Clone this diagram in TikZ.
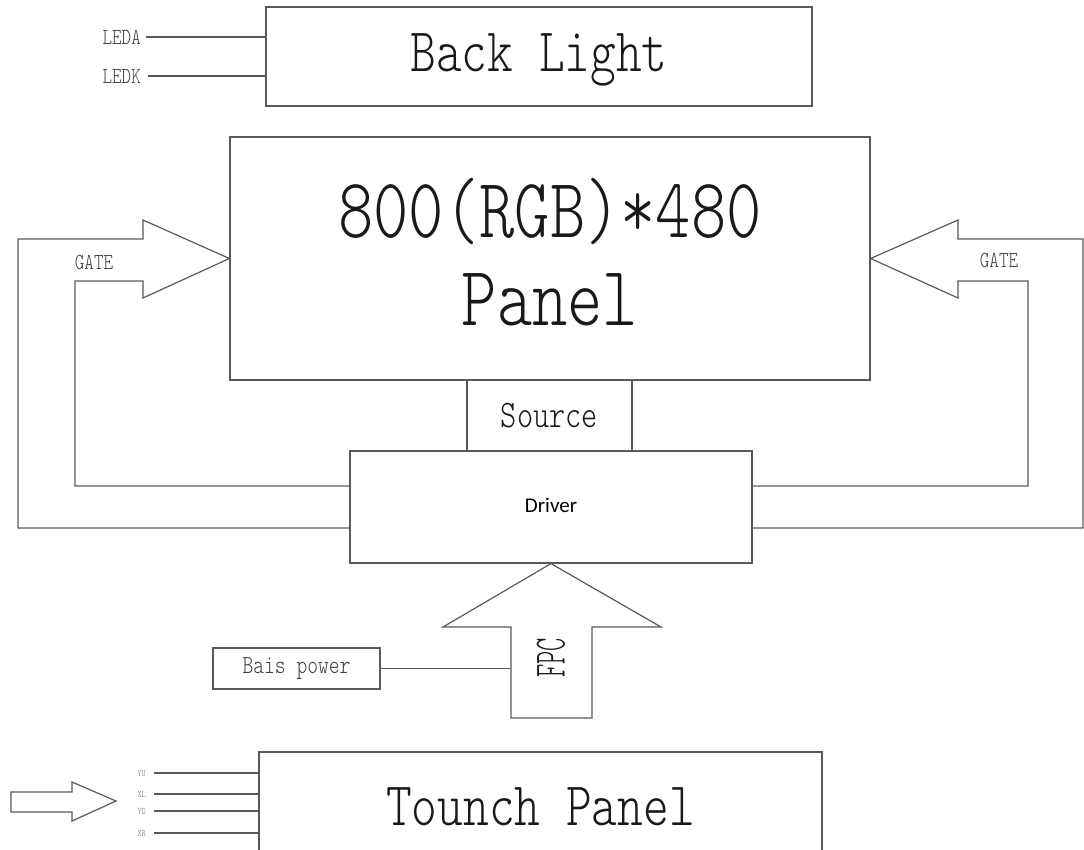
\documentclass[tikz,border=0pt]{standalone}
\usepackage{fontspec}
\newfontfamily\sunfont{lmmonolt10-regular.otf}[FakeStretch=0.79]
\newfontfamily\driverfont{Carlito}

\begin{document}
\begin{tikzpicture}[x=1pt,y=-1pt]
        \tikzstyle{every node}=[inner sep=0pt, text=black!90]
        \tikzstyle{block}=[draw=black!65, line width=1.2pt, rectangle]
        \tikzstyle{wire}=[draw=black!65, line width=1.2pt]
        \tikzstyle{pin}=[font={\sunfont\fontsize{23}{23}\selectfont}, text=black!75]
        \tikzstyle{tinypin}=[font={\sunfont\fontsize{10}{10}\selectfont}, text=black!55]
        \useasboundingbox (0,0) rectangle (1084,850);
        \node[block, minimum width=546, minimum height=99, text height=38, text depth=7, font={\sunfont\fontsize{62}{62}\selectfont}] (light) at (539,56.5) {Back Light};
        \node[block, minimum width=640, minimum height=243] (panel) at (550,258.5) {};
        \node[anchor=base, font={\sunfont\fontsize{85}{85}\selectfont}] (panela) at (550,238) {800(RGB)*480};
        \node[anchor=base, font={\sunfont\fontsize{85}{85}\selectfont}] (panelb) at (550,325) {Panel};
        \node[block, minimum width=165, minimum height=71, font={\sunfont\fontsize{39}{39}\selectfont}] (source) at (549.5,415.5) {Source};
        \node[block, minimum width=402, minimum height=112, text height=14, text depth=4, font={\driverfont\fontsize{21}{21}\selectfont}, text=black] (driver) at (551,507) {Driver};
        \node[block, minimum width=167, minimum height=41, font={\sunfont\fontsize{26}{26}\selectfont}, text=black!75] (bais) at (296.5,668.5) {Bais power};
        \node[block, minimum width=563, minimum height=110, font={\sunfont\fontsize{62}{62}\selectfont}] (touch) at (540.5,807) {Tounch Panel};
        % back light pins
        \node[pin, anchor=east] (leda) at (141,37) {LEDA};
        \node[pin, anchor=east] (ledk) at (141,76) {LEDK};
        \draw[wire] ([xshift=5]leda.east) -- (leda.east -| light.west);
        \draw[wire] ([xshift=7]ledk.east) -- (ledk.east -| light.west);
        % gate arrows
        \node[pin] (gatel) at (94,262) {GATE};
        \node[pin] (gater) at (999,260) {GATE};
        \draw[wire] (driver.west |- 0,486) -| (75,281) -- (143,281) -- (143,298) -- (panel.west) -- (143,220) -- (143,239) -| (18,528) -- (driver.west |- 0,528);
        \draw[wire] (driver.east |- 0,486) -| (1028,281) -- (958,281) -- (958,298) -- (panel.east) -- (958,220) -- (958,239) -| (1083,528) -- (driver.east |- 0,528);
        % fpc arrow
        \coordinate (fpcl) at (511,627);
        \draw[wire] (driver.south) -- (661,627) -- (592,627) -- (592,718) -- (511,718) -- (fpcl) -- (443,627) -- cycle;
        \node[rotate=90, font={\sunfont\fontsize{32}{32}\selectfont}] (fpc) at (551,658) {\scalebox{1}[1.4]{FPC}};
        \draw[wire] (bais.east) -- (bais.east -| fpcl);
        % touch pins
        \foreach \p/\y in {YU/773, XL/794, YD/811, XR/833}
            {\node[tinypin, anchor=east] (\p) at (146,\y) {\p};
             \draw[wire] ([xshift=8]\p.east) -- (\p.east -| touch.west);}
        \draw[wire] (11,792) -- (72,792) -- (72,782) -- (116,801) -- (72,821) -- (72,812) -- (11,812) -- cycle;
    \end{tikzpicture}
\end{document}
